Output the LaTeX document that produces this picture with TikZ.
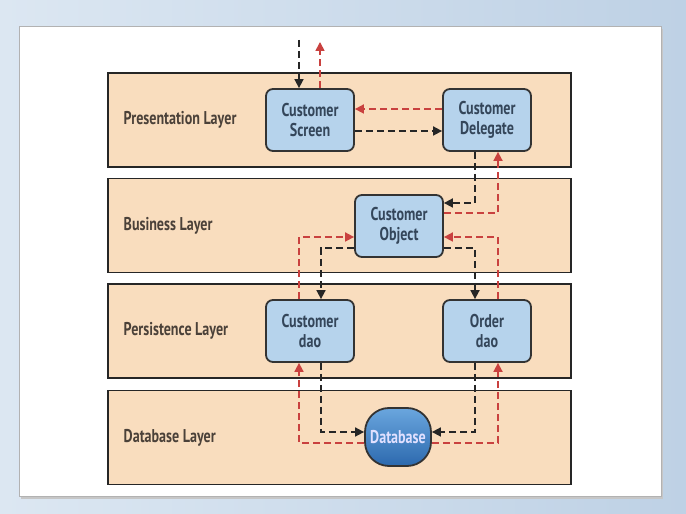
\documentclass[tikz,border=0pt]{standalone}
\usepackage{fontspec}
\setmainfont{PT Sans}[FakeStretch=0.76]
\usetikzlibrary{arrows.meta}

\definecolor{peach}{HTML}{F9DDBE}
\definecolor{boxblue}{HTML}{B6D3EC}
\definecolor{flowred}{HTML}{C9413F}
\definecolor{boxtext}{HTML}{34465A}
\definecolor{layertext}{HTML}{4B4139}
\definecolor{dbtop}{HTML}{6AA6DE}
\definecolor{dbbot}{HTML}{2C69AE}
\definecolor{bgleft}{HTML}{DCE7F2}
\definecolor{bgright}{HTML}{BED1E5}

\begin{document}
\begin{tikzpicture}[
  x=1pt, y=1pt,
  layer/.style={rectangle, draw=black!85, line width=1.6pt, fill=peach, minimum width=463pt, minimum height=94pt},
  layername/.style={anchor=west, text=layertext, font=\fontsize{18.5}{20}\selectfont\bfseries},
  block/.style={rectangle, rounded corners=7pt, draw=black!80, line width=1.8pt, fill=boxblue, minimum width=88pt, minimum height=62pt, align=center, text=boxtext, font=\fontsize{18.5}{20}\selectfont\bfseries},
  blk/.style={->, black!85, line width=1.7pt, dash pattern=on 7pt off 4pt},
  rd/.style={->, flowred, line width=1.7pt, dash pattern=on 7pt off 4pt},
  >={Triangle[length=9pt, width=9pt]},
  node distance=177pt
]
% background and panel
\shade[left color=bgleft, right color=bgright] (0,0) rectangle (686,514);
\fill[gray!45] (21,15) rectangle (663,485);
\filldraw[fill=white, draw=gray!60, line width=1pt] (19,17) rectangle (661,487);

% layers
\node[layer] (pres) at (339.5,394) {};
\node[layer, below of=pres, node distance=105.5pt] (busi) {};
\node[layer, below of=busi, node distance=105.5pt] (pers) {};
\node[layer, below of=pers, node distance=106.5pt] (dbl) {};

\node[layername] (prestext) at ([xshift=13pt]pres.west) {Presentation Layer};
\node[layername] (busitext) at ([xshift=13pt]busi.west) {Business Layer};
\node[layername] (perstext) at ([xshift=13pt]pers.west) {Persistence Layer};
\node[layername] (dbltext) at ([xshift=13pt]dbl.west) {Database Layer};

% components
\node[block] (screen) at (310,394) {Customer\\Screen};
\node[block, right of=screen] (delegate) {Customer\\Delegate};
\node[block] (object) at (399,288) {Customer\\Object};
\node[block, below of=screen, node distance=211pt] (custdao) {Customer\\dao};
\node[block, below of=delegate, node distance=211pt] (orderdao) {Order\\dao};
\node[rectangle, rounded corners=24pt, draw=black!80, line width=1.8pt, top color=dbtop, bottom color=dbbot,
  minimum width=66pt, minimum height=58pt, inner sep=0pt, text=white!88!blue, font=\fontsize{18.5}{20}\selectfont\bfseries] (db) at (398,77) {Database};

\coordinate (in) at (299,474);
\coordinate (out) at (320,472);

% request flow (black) and response flow (red)
\draw[blk] (in) -- (in |- screen.north);
\draw[rd] (out |- screen.north) -- (out);
\draw[rd] ([yshift=11pt]delegate.west) -- ([yshift=11pt]screen.east);
\draw[blk] ([yshift=-11pt]screen.east) -- ([yshift=-11pt]delegate.west);
\draw[blk] ([xshift=-12pt]delegate.south) |- ([yshift=23pt]object.east);
\draw[rd] ([yshift=13pt]object.east) -| ([xshift=11pt]delegate.south);
\draw[rd] ([xshift=-11pt]custdao.north) |- ([yshift=-11pt]object.west);
\draw[blk] ([yshift=-22pt]object.west) -| ([xshift=11pt]custdao.north);
\draw[blk] ([yshift=-22pt]object.east) -| ([xshift=-12pt]orderdao.north);
\draw[rd] ([xshift=11pt]orderdao.north) |- ([yshift=-11pt]object.east);
\draw[blk] ([xshift=11pt]custdao.south) |- ([yshift=5pt]db.west);
\draw[rd] ([yshift=-6pt]db.west) -| ([xshift=-11pt]custdao.south);
\draw[blk] ([xshift=-12pt]orderdao.south) |- ([yshift=5pt]db.east);
\draw[rd] ([yshift=-6pt]db.east) -| ([xshift=11pt]orderdao.south);
\end{tikzpicture}
\end{document}
